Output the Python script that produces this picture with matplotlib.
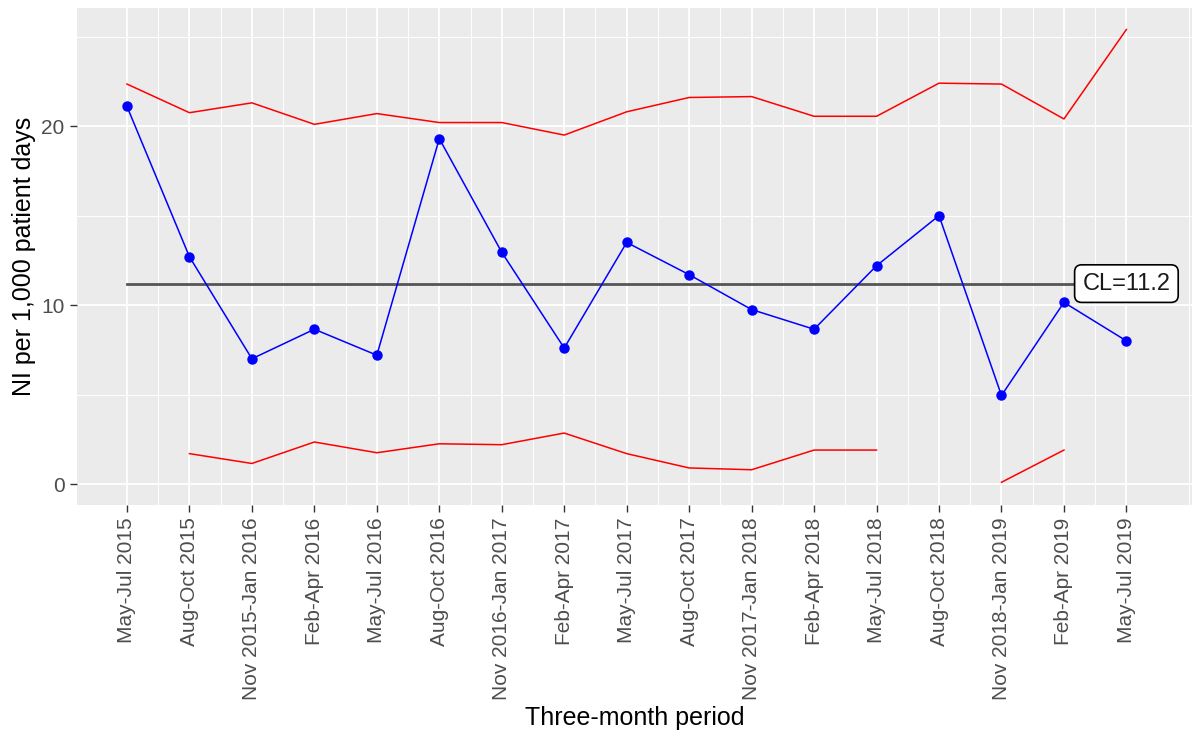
import numpy as np
import matplotlib
matplotlib.use('Agg')
import matplotlib.pyplot as plt
from matplotlib.ticker import MultipleLocator

plt.rcParams['font.family'] = ['Liberation Sans', 'DejaVu Sans']

# 三個月期間與感染率 (每千病人日)
periods = ['May-Jul 2015', 'Aug-Oct 2015', 'Nov 2015-Jan 2016', 'Feb-Apr 2016',
           'May-Jul 2016', 'Aug-Oct 2016', 'Nov 2016-Jan 2017', 'Feb-Apr 2017',
           'May-Jul 2017', 'Aug-Oct 2017', 'Nov 2017-Jan 2018', 'Feb-Apr 2018',
           'May-Jul 2018', 'Aug-Oct 2018', 'Nov 2018-Jan 2019', 'Feb-Apr 2019',
           'May-Jul 2019']
rate = [21.1, 12.7, 7.0, 8.65, 7.2, 19.3, 12.95, 7.6, 13.5, 11.7, 9.75,
        8.65, 12.2, 15.0, 4.95, 10.15, 8.0]
ucl = [22.35, 20.75, 21.3, 20.1, 20.7, 20.2, 20.2, 19.5, 20.8, 21.6, 21.65,
       20.55, 20.55, 22.4, 22.35, 20.4, 25.4]
lcl = [np.nan, 1.7, 1.15, 2.35, 1.75, 2.25, 2.2, 2.85, 1.7, 0.9, 0.8,
       1.9, 1.9, np.nan, 0.1, 1.9, np.nan]
cl = 11.2

x = np.arange(1, len(periods) + 1)

fig = plt.figure(figsize=(11.92, 7.4), dpi=100)
ax = fig.add_axes([77 / 1192, 235 / 740, 1115 / 1192, 497 / 740])
ax.set_facecolor('#EBEBEB')
for s in ax.spines.values():
    s.set_visible(False)

ax.plot(x, ucl, color='#FF0000', lw=1.1, zorder=3)
ax.plot(x, lcl, color='#FF0000', lw=1.1, zorder=3)
ax.axhline(cl, xmin=(1 - 0.2) / 17.85, xmax=(17 - 0.2) / 17.85,
           color='#555555', lw=2.0, zorder=3)
ax.plot(x, rate, color='#0000FF', lw=1.1, marker='o', ms=6.5, zorder=4)
ax.text(17, cl, 'CL=11.2', ha='center', va='center', fontsize=17,
        color='#1a1a1a', zorder=5,
        bbox=dict(boxstyle='round,pad=0.33,rounding_size=0.3', fc='white',
                  ec='black', lw=1.2))

ax.set_xlim(0.2, 18.05)
ax.set_ylim(-1.17, 26.6)
ax.set_xticks(x)
ax.set_xticklabels(periods, rotation=90, fontsize=15, color='#4D4D4D')
ax.set_xticks(x[:-1] + 0.5, minor=True)
ax.yaxis.set_major_locator(MultipleLocator(10))
ax.yaxis.set_minor_locator(MultipleLocator(5))
ax.tick_params(axis='y', labelsize=15, labelcolor='#4D4D4D')
ax.tick_params(which='major', length=5, width=1.0, color='#333333', pad=4)
ax.tick_params(which='minor', length=0)

ax.grid(which='major', color='white', lw=1.3, zorder=0)
ax.grid(which='minor', color='white', lw=0.7, zorder=0)
ax.set_axisbelow(True)
# 最右側的次要格線
ax.axvline(18, color='white', lw=0.7, zorder=0)

ax.set_xlabel('Three-month period', fontsize=18, labelpad=4)
ax.set_ylabel('NI per 1,000 patient days', fontsize=18, labelpad=4)

fig.savefig('out.png', dpi=100, facecolor='white')
